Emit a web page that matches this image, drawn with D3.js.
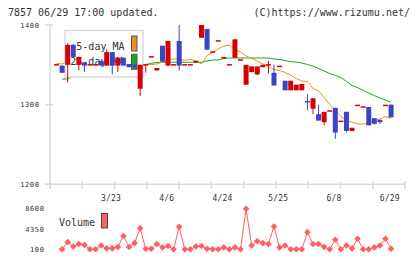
<!DOCTYPE html>
<html><head><meta charset="utf-8">
<script src="https://cdn.jsdelivr.net/npm/d3@7"></script>
<style>body{margin:0;background:#fff}svg{display:block}</style>
</head><body><svg id="c" width="420" height="259"></svg>
<script>
// ---- data ----
const dateLabels = ["3/23","4/6","4/24","5/25","6/8","6/29"];
const dateLabelIdx = [10,20,30,40,50,60];
const priceTicks = [1200,1300,1400];
const volTicks = [100,4350,8600];
const open  = [1350,1349,1350,1375,1350,1353,1350,1350,1355,1349,1366,1349,1359,1351,1350,1320,1350,1360,1343,1374,1349,1350,1380,1350,1350,1353,1384,1395,1366,1380,1359,1350,1359,1356,1325,1341,1338,1347,1350,1340,1348,1330,1318,1318,1318,1304,1295,1288,1278,1292,1296,1279,1291,1267,1299,1297,1297,1283,1281,1299,1300];
const high  = [1350,1349,1377,1376,1360,1353,1350,1350,1355,1369,1366,1359,1359,1351,1350,1350,1350,1360,1346,1374,1380,1350,1400,1350,1350,1355,1400,1395,1366,1380,1359,1350,1382,1356,1350,1348,1348,1350,1355,1350,1348,1330,1330,1325,1326,1313,1308,1300,1291,1292,1296,1279,1291,1271,1299,1297,1297,1283,1281,1299,1300];
const low   = [1350,1340,1328,1360,1343,1341,1350,1350,1349,1349,1338,1341,1349,1347,1347,1311,1340,1360,1343,1354,1349,1350,1343,1350,1350,1353,1384,1369,1366,1380,1359,1350,1359,1356,1325,1341,1337,1347,1339,1324,1348,1318,1318,1318,1318,1293,1288,1280,1274,1292,1257,1279,1265,1267,1299,1297,1274,1275,1276,1299,1284];
const close = [1350,1340,1375,1360,1360,1349,1350,1350,1349,1366,1349,1359,1349,1347,1347,1350,1350,1360,1346,1354,1380,1350,1349,1350,1350,1355,1400,1369,1366,1380,1359,1350,1382,1356,1350,1348,1348,1350,1350,1324,1348,1318,1330,1325,1326,1303.5,1308,1280,1291,1292,1265,1279,1267,1271,1299,1297,1274,1276,1278,1299,1284];
const ma5  = [1351.9,1351.0,1354.8,1357.9,1359.2,1358.6,1356.1,1353.5,1352.3,1354.8,1356.0,1356.0,1355.0,1352.3,1350.4,1349.2,1350.2,1350.4,1351.0,1353.5,1356.0,1357.7,1356.9,1355.7,1356.9,1354.8,1351.0,1361.7,1365.5,1370.2,1373.6,1374.5,1369.2,1366.1,1361.1,1357.9,1354.8,1351.0,1347.9,1344.1,1342.9,1340.4,1337.2,1332.8,1329.7,1329.1,1320.3,1317.1,1309.0,1300.2,1292.7,1285.1,1280.1,1278.2,1275.7,1275.7,1277.6,1279.5,1282.0,1285.1,1282.6];
const ma25 = [null,1332.2,1332.2,1336.0,1338.5,1339.7,1341.0,1342.2,1343.5,1344.8,1345.4,1346.0,1346.6,1347.3,1347.9,1348.9,1350.4,1351.9,1352.9,1353.2,1353.2,1353.2,1353.2,1353.2,1353.2,1353.2,1353.2,1354.8,1356.0,1356.0,1357.9,1358.6,1358.6,1358.6,1358.6,1358.6,1358.6,1358.6,1358.6,1357.3,1356.7,1355.4,1353.9,1353.5,1352.3,1350.4,1348.5,1345.4,1342.2,1339.1,1336.6,1334.1,1329.1,1324.0,1321.5,1317.8,1314.6,1311.5,1308.3,1305.8,1302.9];
const volume = [null,100,1600,700,1200,1000,100,100,900,300,300,600,2900,600,1400,4500,200,200,1200,500,800,100,4800,100,100,700,800,200,100,100,500,100,500,100,8600,900,1800,1400,1200,4900,500,900,100,100,100,3700,1200,1200,600,100,2100,100,900,300,2300,100,100,500,900,2300,200];

// ---- chart ----
const svg = d3.select("#c");
const FONT = "'DejaVu Sans Mono', monospace";
const AX = "#dadada", TXT = "#333";
const RED = "#d60000", BLUE = "#3c44c6", ORANGE = "#f0901c", GREEN = "#1aa81a", VOL = "#ff5f5f";
const n = open.length;
const idx = d3.range(n);

const x = d3.scaleLinear().domain([-1.17, 62.5]).range([50, 405]);
const y = d3.scaleLinear().domain([1200, 1400]).range([184.3, 25]);
const yv = d3.scaleLinear().domain([100, 8600]).range([249.3, 208.8]);
const gridX = d3.scaleLinear().domain([0, 11]).range([50, 405]);

svg.append("rect").attr("width",420).attr("height",259).attr("fill","#fff");

// title
svg.append("text").attr("x",8).attr("y",16.3).attr("font-family",FONT).attr("font-size",10)
  .attr("fill",TXT).text("7857 06/29 17:00 updated.");
svg.append("text").attr("x",410).attr("y",16.3).attr("text-anchor","end").attr("font-family",FONT)
  .attr("font-size",10).attr("fill",TXT).text("(C)https://www.rizumu.net/");

// axes
const ax = svg.append("g").attr("stroke",AX).attr("stroke-width",1.5);
ax.append("line").attr("x1",50).attr("x2",50).attr("y1",y(1400)).attr("y2",189);
ax.append("line").attr("x1",45).attr("x2",405).attr("y1",y(1200)).attr("y2",y(1200));
ax.selectAll(".pt").data(priceTicks).join("line").attr("x1",45).attr("x2",53)
  .attr("y1",d=>y(d)).attr("y2",d=>y(d));
ax.selectAll(".gt").data(d3.range(12)).join("line").attr("x1",d=>gridX(d)).attr("x2",d=>gridX(d))
  .attr("y1",181).attr("y2",189);

svg.selectAll(".pl").data(priceTicks).join("text").attr("x",39.5).attr("y",d=>y(d)+2.5)
  .attr("text-anchor","end").attr("font-family",FONT).attr("font-size",7).attr("letter-spacing",0.6)
  .attr("fill",TXT).text(d=>d);
svg.selectAll(".dl").data(dateLabels).join("text").attr("x",(d,i)=>x(dateLabelIdx[i])-1.2).attr("y",200.7)
  .attr("text-anchor","middle").attr("font-family",FONT).attr("font-size",8).attr("letter-spacing",0.2)
  .attr("fill",TXT).text(d=>d);
svg.selectAll(".vl").data(volTicks).join("text").attr("x",44.5).attr("y",d=>yv(d)+2.5)
  .attr("text-anchor","end").attr("font-family",FONT).attr("font-size",7).attr("letter-spacing",0.6)
  .attr("fill",TXT).text(d=>d);

// MA lines
const lineGen = arr => d3.line().defined(i=>arr[i]!=null).x(i=>x(i)).y(i=>y(arr[i]))(idx);
svg.append("path").attr("d",lineGen(ma25)).attr("fill","none").attr("stroke",GREEN).attr("stroke-width",1);
svg.append("path").attr("d",lineGen(ma5)).attr("fill","none").attr("stroke",ORANGE).attr("stroke-width",1);

// legend
svg.append("rect").attr("x",65).attr("y",30.5).attr("width",78).attr("height",46.5)
  .attr("fill","#fff").attr("stroke",AX).attr("stroke-width",1.5);
const legItems = [["5-day MA",ORANGE],["25-day MA",GREEN]];
legItems.forEach((d,k)=>{
  svg.append("text").attr("x",124.5).attr("y",49.5+k*15.3).attr("text-anchor","end")
    .attr("font-family",FONT).attr("font-size",10).attr("fill",TXT).text(d[0]);
  svg.append("rect").attr("x",131.5).attr("y",36+k*18.3).attr("width",5.5).attr("height",15)
    .attr("fill",d[1]).attr("stroke","#555").attr("stroke-width",1);
});

// candles
const cg = svg.append("g");
idx.forEach(i=>{
  const col = close[i] > open[i] ? RED : (close[i] < open[i] ? BLUE : (i===45 ? BLUE : RED));
  const cx = x(i);
  if (high[i] !== low[i]) {
    cg.append("line").attr("x1",cx).attr("x2",cx).attr("y1",y(high[i])).attr("y2",y(low[i]))
      .attr("stroke",col).attr("stroke-width",1);
  }
  const top = y(Math.max(open[i],close[i])), bot = y(Math.min(open[i],close[i]));
  const h = Math.max(1.5, bot-top);
  cg.append("rect").attr("x",cx-2.5).attr("width",5).attr("y",h===1.5 ? (top+bot)/2-0.75 : top)
    .attr("height",h).attr("fill",col);
});

// volume
const vIdx = idx.filter(i=>volume[i]!=null);
svg.append("path").attr("d",d3.line().x(i=>x(i)).y(i=>yv(volume[i]))(vIdx))
  .attr("fill","none").attr("stroke",VOL).attr("stroke-width",1);
svg.selectAll(".vp").data(vIdx).join("path")
  .attr("d","M0,-3.3L3.3,0L0,3.3L-3.3,0Z")
  .attr("transform",i=>`translate(${x(i)},${yv(volume[i])})`).attr("fill",VOL);
svg.append("text").attr("x",59).attr("y",226).attr("font-family",FONT).attr("font-size",10)
  .attr("fill",TXT).text("Volume");
svg.append("rect").attr("x",101.5).attr("y",213.5).attr("width",6).attr("height",14.5)
  .attr("fill","#ff6060").attr("stroke","#444").attr("stroke-width",1);
</script></body></html>
